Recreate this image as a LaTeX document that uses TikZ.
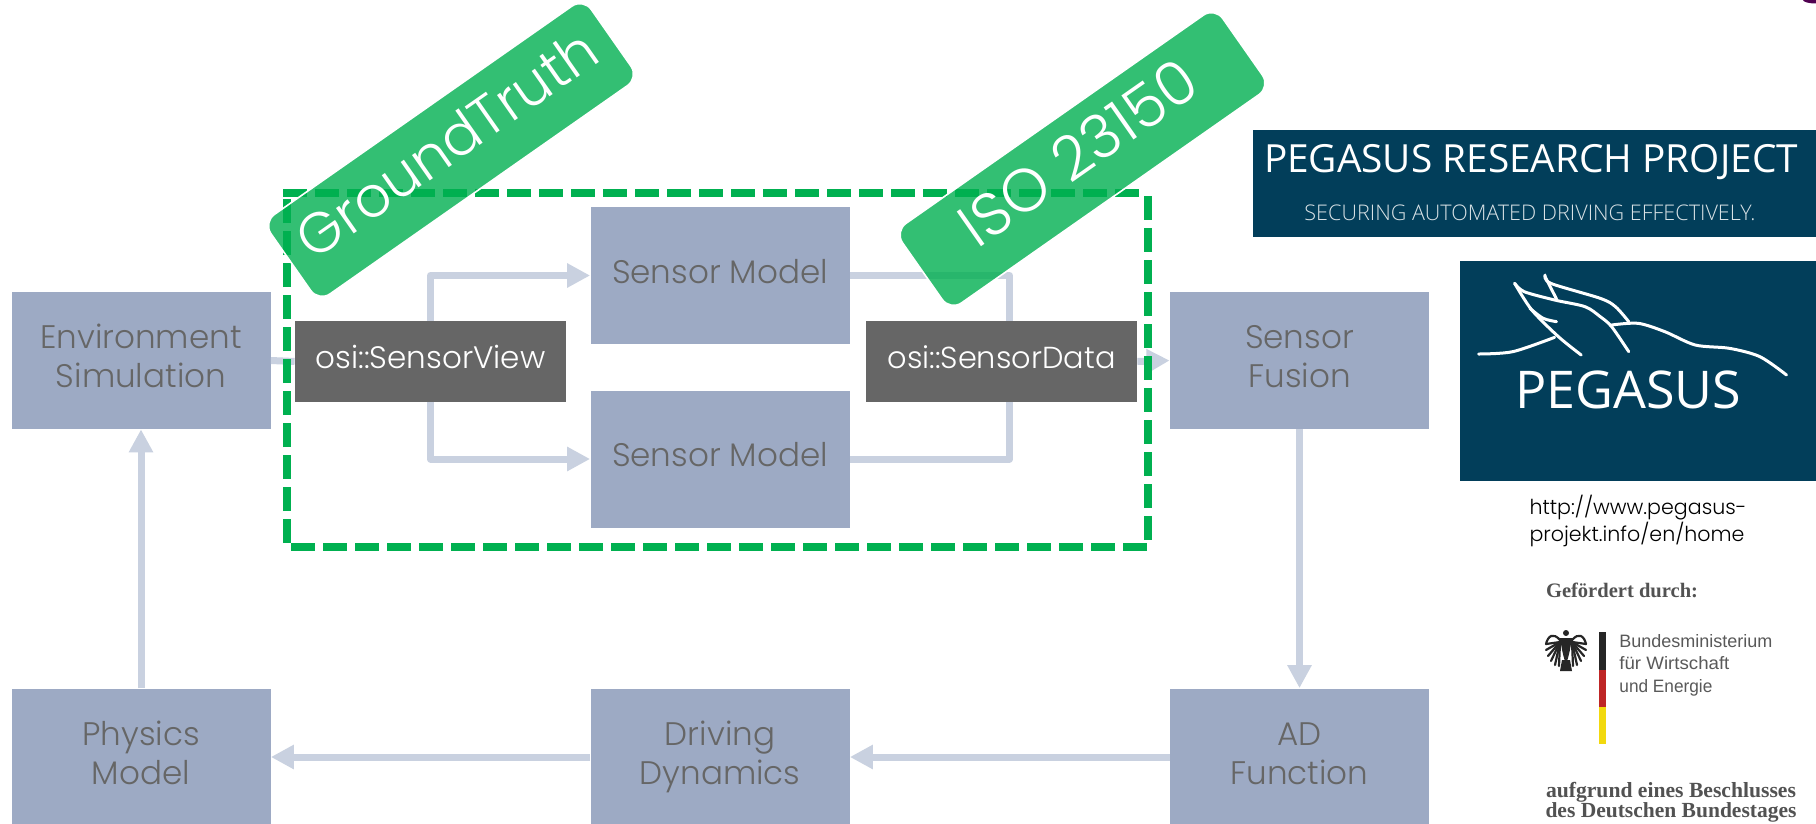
\documentclass[tikz,border=0pt]{standalone}
\usepackage{fontspec}
\setmainfont{Poppins Light}
\newfontfamily\osl{Open Sans Light}
\newfontfamily\osr{Open Sans}
\newfontfamily\srf{Liberation Serif}
\newfontfamily\hel{Liberation Sans}
\usetikzlibrary{arrows.meta}
\definecolor{boxc}{HTML}{9DAAC4}
\definecolor{conc}{HTML}{C9D1E0}
\definecolor{txtc}{HTML}{666666}
\definecolor{darkb}{HTML}{666666}
\definecolor{navy}{HTML}{023E5A}
\definecolor{grn}{HTML}{00B050}
\newcommand{\fitw}[2]{\resizebox{\dimexpr #1pt/2\relax}{!}{\strut #2}}
\newcommand{\narrowt}[2]{\resizebox{\dimexpr #1pt/2\relax}{6.5pt}{\hel #2}}
\newcommand{\twolines}[2]{\strut #1\\\strut #2}
\tikzset{
  x=0.5pt,y=-0.5pt,
  blockbox/.style={fill=boxc,text=txtc,inner sep=0,minimum width=129.5pt,minimum height=68.5pt,align=center,font=\fontsize{16.3}{19.6}\selectfont},
  osibox/.style={fill=darkb,text=white,inner sep=0,minimum width=135.5pt,minimum height=40.5pt,font=\fontsize{15}{18}\selectfont},
  conn/.style={draw=conc,line width=3.5pt,line join=round,-{Triangle[length=11.5pt,width=11.5pt]}},
  plainconn/.style={draw=conc,line width=3.5pt,line join=round},
  tagbox/.style={fill=grn,fill opacity=0.8,text opacity=1,text=white,draw=white,line width=0.8pt,rounded corners=7pt,rotate=35,minimum width=195.5pt,minimum height=48.5pt,inner sep=0,font=\fontsize{26}{30}\selectfont},
  wing/.style={draw=white,line width=1.5pt,line cap=round,line join=round},
  plaintext/.style={inner sep=0,anchor=center},
  dashline/.style={grn,line width=4pt,dash pattern=on 12pt off 4pt},
  feather/.style={draw=black!85,line width=1.1pt,line cap=round},
}
\begin{document}
\begin{tikzpicture}
\useasboundingbox (0,0) rectangle (1816,824);
\clip (0,0) rectangle (1816,824);
\fill[white] (0,0) rectangle (1816,824);
\fill[black!10!violet!70!black] (1816,0) ellipse (13 and 3.5);

% blocks
\node[blockbox] (env) at (141,360.5) {\twolines{Environment}{Simulation}};
\node[blockbox] (sm1) at (720,275.5) {\strut Sensor Model};
\node[blockbox] (sm2) at (720,459) {\strut Sensor Model};
\node[blockbox] (sf) at (1299.5,360.5) {\twolines{Sensor}{Fusion}};
\node[blockbox] (phy) at (141,757) {\twolines{Physics}{Model}};
\node[blockbox] (drv) at (720,757) {\twolines{Driving}{Dynamics}};
\node[blockbox] (ad) at (1299.5,757) {\twolines{AD}{Function}};
\node[osibox] (sv) at (430.5,361.5) {\fitw{230}{osi::SensorView}};
\node[osibox] (sd) at (1001.5,361.5) {\fitw{228}{osi::SensorData}};

% connectors
\draw[plainconn] (env.east) -- (sv.west);
\draw[conn] (sv.north) |- (sm1.west);
\draw[conn] (sv.south) |- (sm2.west);
\draw[plainconn] (sm1.east) -| ([xshift=4pt]sd.north);
\draw[plainconn] (sm2.east) -| ([xshift=4pt]sd.south);
\draw[conn] (sd.east) -- (sf.west);
\draw[conn] (sf.south) -- (ad.north);
\draw[conn] (ad.west) -- (drv.east);
\draw[conn] (drv.west) -- (phy.east);
\draw[conn] (phy.north) -- (env.south);

% dashed region
\draw[dashline] (283,193) -- (1144,193);
\draw[dashline] (1148,196) -- (1148,541);
\draw[dashline] (291,547) -- (1148,547);
\draw[dashline] (287,543) -- (287,197);

% tags
\node[tagbox] (gt) at (451,150) {\fitw{353}{GroundTruth}};
\node[tagbox] (iso) at (1082.5,159) {\fitw{275}{ISO 23150}};

% header
\fill[navy] (1253,130) rectangle (1816,237);
\node[plaintext,text=white] (h1) at (1531,163) {\fitw{534}{\osr PEGASUS RESEARCH PROJECT}};
\node[plaintext,text=white!85!navy] (h2) at (1530,215.5) {\fitw{451}{\osl SECURING AUTOMATED DRIVING EFFECTIVELY.}};

% logo
\fill[navy] (1460,261) rectangle (1816,481);
\begin{scope}[shift={(1220,100)},x=0.19011pt,y=-0.16667pt]
\draw[wing] plot[smooth] coordinates {(775,550)(800,575)(880,600)(960,620)(1000,650)(1030,680)(1075,755)};
\draw[wing] plot[smooth] coordinates {(855,525)(870,550)(1000,595)(1040,620)(1075,665)};
\draw[wing] (855,530) -- (885,597);
\draw[wing] plot[smooth] coordinates {(775,550)(820,630)(890,710)(950,765)};
\draw[wing] plot[smooth] coordinates {(815,625)(850,655)(885,665)};
\draw[wing] plot[smooth] coordinates {(680,762)(770,755)(880,712)};
\draw[wing] plot[smooth] coordinates {(1030,675)(1100,670)(1170,695)(1250,735)(1340,745)(1420,770)(1490,825)};
\end{scope}
\node[plaintext,text=white] (pg) at (1628,396) {\fitw{226}{\osr PEGASUS}};

% url
\node[plaintext,text=black,align=left,font=\fontsize{10.3}{11.3}\selectfont] (url) at (1638,521) {http://www.pegasus-\\projekt.info/en/home};

% funding
\node[plaintext,text=black!68] (gef) at (1622,592.5) {\fitw{152}{\srf\bfseries Gefördert durch:}};
% eagle
\fill[black!85] (1566,633) circle (3);
\fill[black!85] (1560,638) .. controls (1562,650) and (1563,656) .. (1566,664) .. controls (1569,656) and (1570,650) .. (1572,638) -- cycle;
\fill[black!85] (1562,660) -- (1570,660) -- (1572,671) -- (1560,671) -- cycle;
\foreach \xa/\ya in {1546/644,1546/650,1548/656,1551/661,1555/665,1559/666}{
  \draw[feather] (1560,642) -- (\xa,\ya);}
\foreach \xa/\ya in {1586/644,1586/650,1584/656,1581/661,1577/665,1573/666}{
  \draw[feather] (1572,642) -- (\xa,\ya);}
\draw[feather] (1560,640) .. controls (1553,632) and (1548,636) .. (1546,644);
\draw[feather] (1572,640) .. controls (1579,632) and (1584,636) .. (1586,644);
% flag bar
\fill[black!85] (1599,632) rectangle (1606,670);
\fill[red!70!black!85] (1599,670) rectangle (1606,707);
\fill[yellow!85!orange!95!black] (1599,707) rectangle (1606,744);
\node[inner sep=0,text=black!65,anchor=base west] (bm1) at (1619,647) {\narrowt{153}{Bundesministerium}};
\node[inner sep=0,text=black!65,anchor=base west] (bm2) at (1619,669) {\narrowt{110}{für Wirtschaft}};
\node[inner sep=0,text=black!65,anchor=base west] (bm3) at (1619,692) {\narrowt{93}{und Energie}};
\node[plaintext,text=black!68] (auf1) at (1671,792) {\fitw{250}{\srf\bfseries aufgrund eines Beschlusses}};
\node[plaintext,text=black!68] (auf2) at (1671,812) {\fitw{251}{\srf\bfseries des Deutschen Bundestages}};
\end{tikzpicture}
\end{document}
